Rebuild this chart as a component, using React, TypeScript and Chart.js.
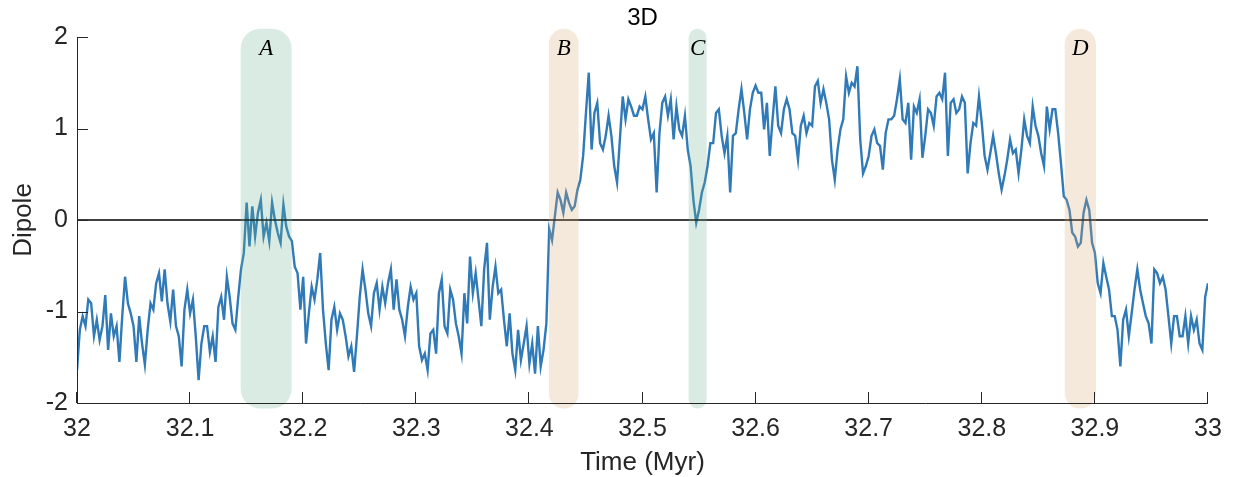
import React, { useEffect, useRef } from "react";
import { Chart, registerables } from "chart.js";

Chart.register(...registerables);

// ---- data ----
const startTime = 32;
const sampleStep = 0.0025;
const dipole = [
  -1.64, -1.2, -1.05, -1.16, -0.87, -0.91, -1.27, -1.09, -1.31, -1.16,
  -0.82, -1.42, -1.02, -1.27, -1.16, -1.55, -1.05, -0.62, -0.91, -1.02,
  -1.16, -1.55, -1.05, -1.35, -1.58, -1.2, -0.91, -0.98, -0.69, -0.58,
  -0.89, -0.54, -0.91, -1.11, -0.76, -1.16, -1.27, -1.6, -0.98, -0.76,
  -1.02, -0.87, -1.27, -1.75, -1.35, -1.16, -1.16, -1.44, -1.27, -1.55,
  -0.95, -0.84, -1.09, -0.62, -0.84, -1.13, -1.2, -0.85,
  -0.54, -0.36, 0.19, -0.29, 0.15, -0.18, 0.08, 0.22, -0.18, -0.03,
  -0.23, 0.19, 0.0, -0.14, -0.25, 0.17, -0.07, -0.18, -0.23, -0.51,
  -0.58, -0.98, -0.62, -1.35, -1.02, -0.73, -0.87, -0.65, -0.36, -0.98,
  -1.35, -1.64, -1.09, -0.95, -1.2, -1.02, -1.09, -1.27, -1.49, -1.38,
  -1.66, -1.27, -0.84, -0.54, -0.76, -1.02, -1.16, -0.8, -0.69, -0.98,
  -0.73, -0.91, -0.69, -0.54, -0.98, -0.65, -0.98,
  -1.09, -1.27, -0.95, -0.73, -0.87, -0.8, -1.38, -1.53, -1.46, -1.64,
  -1.24, -1.2, -1.46, -0.8, -0.65, -1.16, -1.24, -0.76, -0.87, -1.13,
  -1.27, -1.46, -0.8, -1.13, -0.4, -0.8, -0.58, -0.87, -1.16, -0.54,
  -0.25, -1.09, -0.73, -0.51, -0.8, -0.76, -1.09, -1.38, -1.02, -1.46,
  -1.64, -1.2, -1.53, -1.35, -1.16, -1.57, -1.35, -1.68, -1.16, -1.6,
  -1.42, -1.13, -0.1, -0.22, 0.04, 0.3, 0.22,
  0.08, 0.3, 0.19, 0.11, 0.15, 0.33, 0.44, 0.7, 1.17, 1.61,
  0.77, 1.17, 1.28, 0.84, 0.77, 0.92, 1.14, 0.92, 0.59, 0.41,
  0.88, 1.35, 1.1, 1.32, 1.24, 1.14, 1.14, 1.24, 1.21, 1.35,
  1.1, 0.88, 0.95, 0.3, 0.95, 1.28, 1.35, 1.14, 1.32, 0.88,
  1.24, 0.99, 0.92, 1.14, 0.77, 0.59, 0.22, -0.03, 0.11, 0.3,
  0.41, 0.59, 0.84, 0.84, 1.17, 1.21, 0.92,
  0.73, 0.92, 0.3, 0.92, 0.95, 1.21, 1.43, 1.17, 0.88, 1.21,
  1.39, 1.47, 1.39, 1.39, 0.99, 1.28, 0.7, 1.1, 1.46, 1.03,
  0.95, 1.21, 1.32, 1.21, 0.95, 0.92, 0.66, 1.03, 1.14, 0.95,
  1.06, 1.03, 1.46, 1.52, 1.28, 1.43, 1.28, 1.1, 0.66, 0.44,
  0.77, 0.99, 1.1, 1.57, 1.39, 1.5, 1.46, 1.68, 0.88, 0.51,
  0.59, 0.7, 0.92, 0.99, 0.84, 0.81, 0.55, 0.95,
  1.1, 1.1, 1.14, 1.32, 1.54, 1.1, 1.06, 1.28, 0.66, 1.24,
  1.17, 1.32, 0.68, 0.92, 1.21, 1.17, 1.03, 1.35, 1.39, 1.32,
  1.61, 0.7, 1.28, 1.32, 1.17, 1.21, 1.35, 1.28, 0.51, 0.84,
  1.06, 1.03, 1.35, 1.06, 0.7, 0.55, 0.73, 0.92, 0.73, 0.51,
  0.33, 0.48, 0.66, 0.88, 0.73, 0.77, 0.51, 0.77, 1.1, 0.92,
  0.84, 1.24, 1.03, 0.92, 0.73, 0.59, 1.24,
  0.99, 1.21, 1.21, 0.95, 0.62, 0.26, 0.22, 0.11, -0.14, -0.18,
  -0.29, -0.25, 0.08, 0.22, 0.11, -0.25, -0.36, -0.69, -0.8, -0.47,
  -0.62, -0.76, -1.05, -1.05, -1.2, -1.6, -1.09, -0.98, -1.27, -1.02,
  -0.76, -0.54, -0.76, -0.91, -1.05, -1.13, -1.35, -0.54, -0.58, -0.69,
  -0.62, -0.76, -1.05, -1.35, -1.05, -1.05, -1.27, -1.27, -1.05, -1.35,
  -1.05, -1.2, -1.09, -1.35, -1.42, -0.84, -0.69,
];

const zeroLineX = [32, 33];
const zeroLineY = [0, 0];

const xTicks = [32, 32.1, 32.2, 32.3, 32.4, 32.5, 32.6, 32.7, 32.8, 32.9, 33];
const xTickLabels = ["32", "32.1", "32.2", "32.3", "32.4", "32.5", "32.6", "32.7", "32.8", "32.9", "33"];
const yTicks = [-2, -1, 0, 1, 2];
const yTickLabels = ["-2", "-1", "0", "1", "2"];

const bandNames = ["A", "B", "C", "D"];
const bandStart = [32.1447, 32.4173, 32.5408, 32.8733];
const bandEnd = [32.1898, 32.4435, 32.5567, 32.901];
const bandKind = ["green", "beige", "green", "beige"];
const bandTop = 2.09;
const bandBottom = -2.06;
const bandLabelY = 1.8;

const titleText = "3D";
const xTitle = "Time (Myr)";
const yTitle = "Dipole";

// ---- styles ----
const lineColor = "rgb(48,122,183)";
const axisColor = "#262626";
const sans = '"Liberation Sans", Arial, Helvetica, sans-serif';
const bandFill: Record<string, string> = {
  green: "rgba(103,175,143,0.25)",
  beige: "rgba(215,167,115,0.25)",
};

const decor = {
  id: "decor",
  afterDatasetsDraw(chart: any) {
    const { ctx } = chart;
    const x = chart.scales.x;
    const y = chart.scales.y;
    ctx.save();
    for (let k = 0; k < bandStart.length; k++) {
      const x0 = x.getPixelForValue(bandStart[k]);
      const x1 = x.getPixelForValue(bandEnd[k]);
      const y0 = y.getPixelForValue(bandTop);
      const y1 = y.getPixelForValue(bandBottom);
      const w = x1 - x0;
      const r = Math.min(w / 2, 20);
      ctx.fillStyle = bandFill[bandKind[k]];
      ctx.beginPath();
      ctx.moveTo(x0 + r, y0);
      ctx.lineTo(x1 - r, y0);
      ctx.arcTo(x1, y0, x1, y0 + r, r);
      ctx.lineTo(x1, y1 - r);
      ctx.arcTo(x1, y1, x1 - r, y1, r);
      ctx.lineTo(x0 + r, y1);
      ctx.arcTo(x0, y1, x0, y1 - r, r);
      ctx.lineTo(x0, y0 + r);
      ctx.arcTo(x0, y0, x0 + r, y0, r);
      ctx.closePath();
      ctx.fill();
      ctx.fillStyle = "#000";
      ctx.font = 'italic 23px "Liberation Serif", "Times New Roman", serif';
      ctx.textAlign = "center";
      ctx.textBaseline = "alphabetic";
      ctx.fillText(bandNames[k], (x0 + x1) / 2, y.getPixelForValue(bandLabelY));
    }
    ctx.restore();
  },
  afterDraw(chart: any) {
    const { ctx } = chart;
    const x = chart.scales.x;
    const y = chart.scales.y;
    const left = x.getPixelForValue(xTicks[0]);
    const right = x.getPixelForValue(xTicks[xTicks.length - 1]);
    const bottom = y.getPixelForValue(yTicks[0]);
    const top = y.getPixelForValue(yTicks[yTicks.length - 1]);
    ctx.save();
    ctx.strokeStyle = axisColor;
    ctx.lineWidth = 1;
    ctx.beginPath();
    ctx.moveTo(left + 0.5, top);
    ctx.lineTo(left + 0.5, bottom + 0.5);
    ctx.lineTo(right, bottom + 0.5);
    ctx.stroke();
    const tl = 11;
    ctx.beginPath();
    for (const t of xTicks) {
      const px = Math.round(x.getPixelForValue(t)) - 0.5;
      ctx.moveTo(px, bottom);
      ctx.lineTo(px, bottom - tl);
    }
    for (const t of yTicks) {
      const py = Math.round(y.getPixelForValue(t)) + 0.5;
      ctx.moveTo(left, py);
      ctx.lineTo(left + tl, py);
    }
    ctx.stroke();

    ctx.fillStyle = "#000";
    ctx.textAlign = "center";
    ctx.textBaseline = "middle";
    ctx.font = `24px ${sans}`;
    ctx.fillText(titleText, (left + right) / 2, 18);
    ctx.fillStyle = axisColor;
    ctx.font = `26px ${sans}`;
    ctx.fillText(xTitle, (left + right) / 2, 463);
    ctx.translate(24, (top + bottom) / 2);
    ctx.rotate(-Math.PI / 2);
    ctx.fillText(yTitle, 0, 0);
    ctx.restore();
  },
};

export default function App() {
  const ref = useRef<HTMLCanvasElement | null>(null);
  useEffect(() => {
    if (!ref.current) return;
    const points = dipole.map((v, i) => ({ x: startTime + i * sampleStep, y: v }));
    const zero = zeroLineX.map((v, i) => ({ x: v, y: zeroLineY[i] }));
    const chart = new Chart(ref.current, {
      type: "line",
      data: {
        datasets: [
          {
            data: zero,
            borderColor: "#000",
            borderWidth: 1.4,
            pointRadius: 0,
            order: 0,
          },
          {
            data: points,
            borderColor: lineColor,
            borderWidth: 2.4,
            pointRadius: 0,
            tension: 0,
            order: 1,
          },
        ],
      },
      options: {
        animation: false,
        responsive: false,
        devicePixelRatio: 1,
        layout: { padding: { left: 0, right: 27, top: 37, bottom: 0 } },
        plugins: {
          legend: { display: false },
          title: { display: false },
          tooltip: { enabled: false },
        },
        scales: {
          x: {
            type: "linear",
            min: 32,
            max: 33,
            grid: { display: false, drawTicks: false },
            border: { display: false },
            afterBuildTicks: (s: any) => {
              s.ticks = xTicks.map((value) => ({ value }));
            },
            afterFit: (s: any) => {
              s.height = 74;
            },
            ticks: {
              callback: (_v: any, i: number) => xTickLabels[i],
              font: { family: sans, size: 25 },
              color: axisColor,
              padding: 11,
              maxRotation: 0,
              autoSkip: false,
            },
          },
          y: {
            type: "linear",
            min: -2,
            max: 2,
            grid: { display: false, drawTicks: false },
            border: { display: false },
            afterBuildTicks: (s: any) => {
              s.ticks = yTicks.map((value) => ({ value }));
            },
            afterFit: (s: any) => {
              s.width = 77;
            },
            ticks: {
              callback: (_v: any, i: number) => yTickLabels[i],
              font: { family: sans, size: 25 },
              color: axisColor,
              padding: 9,
              autoSkip: false,
            },
          },
        },
      },
      plugins: [decor],
    });
    return () => chart.destroy();
  }, []);
  return (
    <div style={{ position: "absolute", left: 0, top: 0, width: 1235, height: 477, background: "#fff" }}>
      <canvas ref={ref} width={1235} height={477} style={{ display: "block" }} />
    </div>
  );
}
